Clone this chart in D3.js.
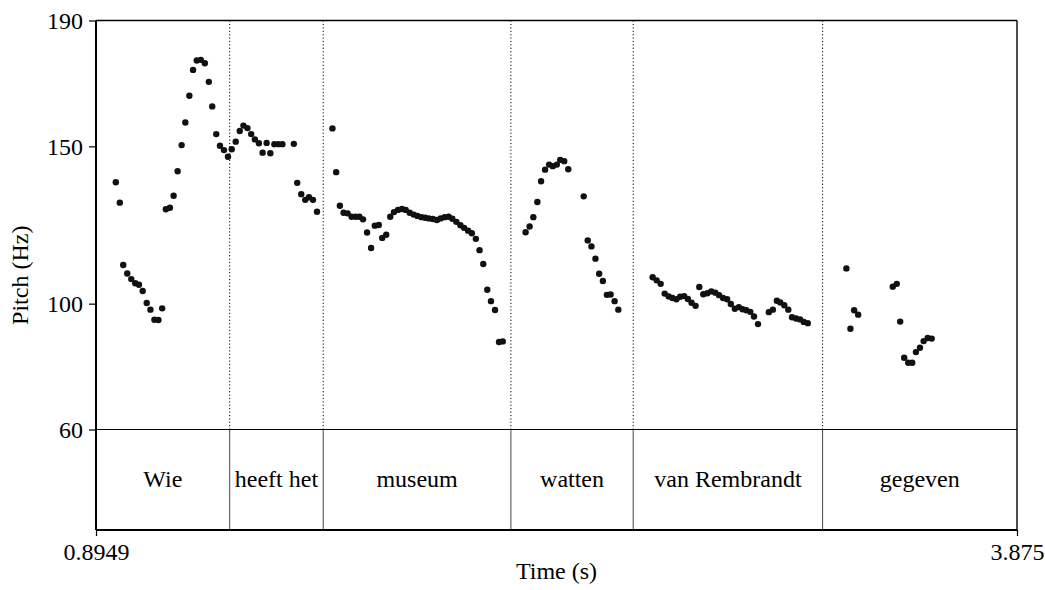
<!DOCTYPE html>
<html><head><meta charset="utf-8">
<script src="https://cdn.jsdelivr.net/npm/d3@7"></script>
<style>body{margin:0;background:#fff}svg{display:block}svg text{font-family:"Liberation Serif",Tinos,"Times New Roman",Times,"DejaVu Serif",serif !important;fill:#000}</style>
</head><body>
<svg id="c" width="1045" height="590"></svg>
<script>
const times = [
0.959,0.972,0.983,0.996,1.009,1.022,1.034,1.046,1.059,1.071,1.084,1.097,1.109,1.121,1.134,1.146,1.159,1.172,1.184,1.197,1.209,1.221,1.234,1.247,1.260,1.271,1.284,1.296,1.309,1.322,
1.334,1.347,1.360,1.372,1.385,1.397,1.409,1.422,1.434,1.447,1.459,1.472,1.485,1.498,1.535,1.546,1.559,1.572,1.584,1.597,1.610,
1.660,1.672,1.684,1.696,1.709,1.722,1.735,1.747,1.759,1.772,1.785,1.797,1.810,1.821,1.834,1.847,1.859,1.872,1.885,1.897,1.910,1.923,1.935,1.948,1.960,1.972,1.985,1.998,2.010,2.023,2.036,2.048,2.061,2.074,2.086,2.099,2.111,2.124,2.136,2.148,2.161,2.173,2.186,2.199,2.211,
2.285,2.298,2.310,2.323,2.335,2.348,2.361,2.373,2.386,2.397,2.410,2.423,2.473,2.486,2.498,2.511,2.523,2.535,2.548,2.560,2.573,2.585,
2.696,2.709,2.722,2.735,2.748,2.760,2.773,2.785,2.798,2.810,2.822,2.835,2.847,2.860,2.873,2.886,2.899,2.911,2.924,2.937,2.949,2.962,2.975,2.987,2.999,3.012,3.024,3.037,3.072,3.085,3.098,3.109,3.122,3.135,3.147,3.160,3.173,3.185,3.198,
3.323,3.336,3.348,3.361,3.473,3.486,3.497,3.510,3.523,3.536,3.548,3.561,3.573,3.586,3.599];
const pitches = [
138.6,132.1,112.3,109.6,107.8,106.5,106.0,104.0,100.2,98.1,94.9,94.8,98.5,130.0,130.5,134.3,142.1,150.4,157.6,166.1,174.3,177.3,177.5,176.4,170.5,162.7,153.9,150.2,148.8,146.7,
149.1,151.5,154.9,156.6,155.8,153.9,152.2,151.0,148.0,151.1,147.8,150.7,150.7,150.7,150.8,138.4,134.8,133.0,133.8,133.0,129.2,
155.7,141.8,131.1,128.9,128.7,127.6,127.6,127.6,126.8,122.6,117.7,124.8,125.0,120.9,121.9,127.6,129.1,129.8,130.1,129.8,128.9,128.3,127.9,127.5,127.3,127.1,126.9,126.6,127.1,127.5,127.6,127.0,126.0,124.9,124.1,123.2,122.4,120.6,117.0,112.6,104.4,100.8,98.0,87.8,88.0,
122.7,124.5,127.5,132.3,138.9,142.6,144.2,143.7,144.2,145.7,145.3,142.7,134.1,120.1,118.2,114.3,109.5,107.2,102.8,102.9,100.8,98.1,
108.4,107.4,106.3,103.2,102.3,101.8,101.4,102.2,102.4,101.5,100.3,99.3,105.3,103.0,103.3,103.9,103.5,102.7,101.8,101.4,99.9,98.4,98.9,98.2,97.9,97.4,95.9,93.5,97.3,98.1,100.9,100.4,99.5,98.1,95.7,95.3,95.0,94.2,93.8,
111.2,92.0,97.9,96.5,105.4,106.3,94.3,82.8,81.2,81.2,84.6,86.0,88.1,89.1,88.9];
const words = ["Wie","heeft het","museum","watten","van Rembrandt","gegeven"];
const boundaries = [0.8949,1.3275,1.6301,2.2374,2.6331,3.2460,3.875];
const yTicks = [60,100,150,190];
const xTicks = [0.8949,3.875];
const xTickLabels = ["0.8949","3.875"];

const FONT = '"Liberation Serif", Tinos, "Times New Roman", Times, "DejaVu Serif", serif';
const svg = d3.select("#c");
const L=96,R=1017,T=20.5,PB=429.5,B=530;
const x = d3.scaleLinear().domain([0.8949,3.875]).range([L,R]);
const y = d3.scaleLinear().domain([60,190]).range([PB,T]);

boundaries.slice(1,-1).forEach(b=>{
  svg.append("line").attr("x1",x(b)).attr("x2",x(b)).attr("y1",T).attr("y2",PB)
    .attr("stroke","#000").attr("stroke-width",1).attr("stroke-dasharray","1.2,2.2");
  svg.append("line").attr("x1",x(b)).attr("x2",x(b)).attr("y1",PB).attr("y2",B)
    .attr("stroke","#333").attr("stroke-width",0.9);
});

svg.append("line").attr("x1",L).attr("x2",R).attr("y1",T).attr("y2",T).attr("stroke","#000").attr("stroke-width",1.4);
svg.append("line").attr("x1",R).attr("x2",R).attr("y1",T).attr("y2",B).attr("stroke","#000").attr("stroke-width",1.4);
svg.append("line").attr("x1",L).attr("x2",R).attr("y1",PB).attr("y2",PB).attr("stroke","#000").attr("stroke-width",1.2);

const ya = svg.append("g").attr("transform",`translate(${L},0)`)
  .call(d3.axisLeft(y).tickValues(yTicks).tickFormat(d3.format("d")).tickSize(7).tickPadding(6));
ya.attr("font-family",FONT).attr("font-size",24);
ya.select(".domain").remove();
svg.append("line").attr("x1",L).attr("x2",L).attr("y1",T).attr("y2",B).attr("stroke","#000").attr("stroke-width",2);
ya.selectAll("line").attr("stroke","#000").attr("stroke-width",1.2);

const xa = svg.append("g").attr("transform",`translate(0,${B})`)
  .call(d3.axisBottom(x).tickValues(xTicks).tickFormat((d,i)=>xTickLabels[i]).tickSize(6).tickPadding(7));
xa.attr("font-family",FONT).attr("font-size",24);
xa.select(".domain").remove();
svg.append("line").attr("x1",L).attr("x2",R).attr("y1",B).attr("y2",B).attr("stroke","#000").attr("stroke-width",2);
xa.selectAll("line").attr("stroke","#000").attr("stroke-width",1.2);

words.forEach((w,i)=>{
  svg.append("text").attr("x",(x(boundaries[i])+x(boundaries[i+1]))/2).attr("y",487)
    .attr("text-anchor","middle").attr("font-family",FONT).attr("font-size",24).text(w);
});

svg.append("text").attr("x",(L+R)/2).attr("y",579).attr("text-anchor","middle").attr("font-family",FONT).attr("font-size",24).text("Time (s)");
svg.append("text").attr("transform",`translate(28,${(T+B)/2}) rotate(-90)`).attr("text-anchor","middle").attr("font-family",FONT).attr("font-size",24).text("Pitch (Hz)");

svg.append("g").selectAll("circle").data(times).join("circle")
  .attr("cx",d=>x(d)).attr("cy",(d,i)=>y(pitches[i])).attr("r",3.2).attr("fill","#111");
</script>
</body></html>
